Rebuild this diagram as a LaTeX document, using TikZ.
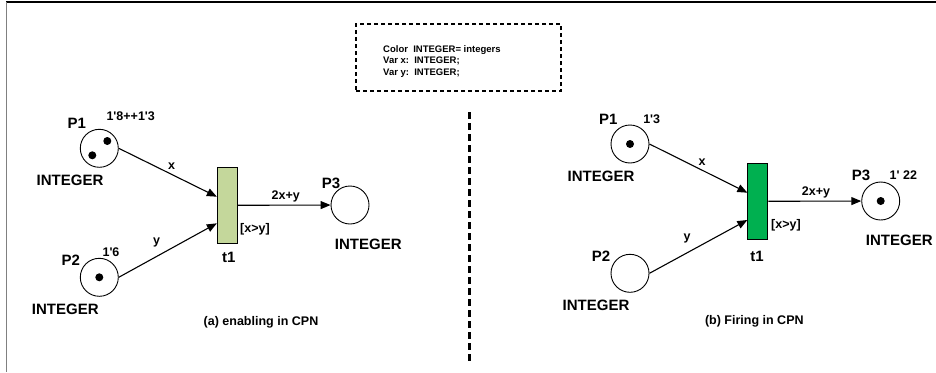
\documentclass[tikz,border=0pt]{standalone}
\usepackage{fontspec}
\setmainfont{Liberation Sans}
\usepackage{tikz}
\usetikzlibrary{arrows.meta,positioning}
\usepackage{xcolor}
\definecolor{lightgreen}{RGB}{196,215,155}
\definecolor{firegreen}{RGB}{0,176,80}
\newcommand{\tick}{\textquotesingle}

\tikzset{
  place/.style={circle,draw,line width=0.9pt,minimum size=38pt,inner sep=0pt},
  trans/.style={rectangle,draw,line width=0.9pt,minimum width=20pt,minimum height=76pt,inner sep=0pt},
  arc/.style={line width=1.1pt,-{Triangle[length=10pt,width=8pt]}},
  biglbl/.style={font=\fontsize{15}{17}\selectfont\bfseries,inner sep=0pt},
  smalllbl/.style={font=\fontsize{12.5}{14}\selectfont\bfseries,inner sep=0pt},
  decllbl/.style={font=\fontsize{9.5}{11.5}\selectfont\bfseries,inner sep=0pt,align=left}
}

\begin{document}
\begin{tikzpicture}[x=1pt, y=-1pt]
\useasboundingbox (0,0) rectangle (936,372);

% ---- frame -----------------------------------------------------------------
\draw[line width=1.5pt] (6,2) -- (936,2);
\draw[gray, line width=1pt] (6,2) -- (6,372);

% ---- colour set declarations -----------------------------------------------
\node[draw,line width=2.2pt,dash pattern=on 4pt off 3pt,minimum width=205pt,
  minimum height=67pt] (decl) at (458.5,57.5) {};
\node[decllbl,anchor=west] (decltext) at (383,61.5)
  {Color\ \ INTEGER= integers\\Var x:\ \ INTEGER;\\Var y:\ \ INTEGER;};

% ---- divider ---------------------------------------------------------------
\draw[line width=3pt,dash pattern=on 7pt off 4pt] (469,112) -- (469,362);

% ---- (a) enabling ----------------------------------------------------------
\node[place] (p1a) at (99.3,148.3) {};
\node[place] (p2a) at (99.3,277.3) {};
\node[place] (p3a) at (350,205) {};
\node[trans,fill=lightgreen] (t1a) at (227.3,205.3) {};
\fill (107.3,141) circle (4pt) (92.3,155.3) circle (4pt);
\fill (p2a.center) circle (4pt);

\node[biglbl] (p1alab) at (76.7,123.3) {P1};
\node[smalllbl] (m1a) at (130.7,116.7) {1\tick8++1\tick3};
\node[biglbl] (ty1a) at (70,180.7) {INTEGER};
\node[biglbl] (p2alab) at (70.7,260) {P2};
\node[smalllbl] (m2a) at (111,252.3) {1\tick6};
\node[biglbl] (ty2a) at (65.3,309.3) {INTEGER};
\node[biglbl] (p3alab) at (331,183.3) {P3};
\node[biglbl] (ty3a) at (368.3,244) {INTEGER};
\node[biglbl] (t1alab) at (228.7,257.3) {t1};
\node[smalllbl] (g1a) at (255,229.3) {[x>y]};

\draw[arc] (p1a.east) -- ([yshift=8.6pt]t1a.west);
\draw[arc] (p2a.east) -- ([yshift=-18pt]t1a.west);
\draw[arc] (t1a) -- (p3a);
\node[smalllbl] (xa) at (171.7,165.7) {x};
\node[smalllbl] (ya) at (156.7,242.3) {y};
\node[smalllbl] (ea) at (285.7,196.7) {2x+y};

\node[smalllbl] (capa) at (261,322.3) {(a) enabling in CPN};

% ---- (b) firing ------------------------------------------------------------
\node[place] (p1b) at (630,144) {};
\node[place] (p2b) at (630,273.3) {};
\node[place] (p3b) at (880.7,201) {};
\node[trans,fill=firegreen] (t1b) at (757.8,201.3) {};
\fill (p1b.center) circle (4pt) (p3b.center) circle (4pt);

\node[biglbl] (p1blab) at (608.3,119) {P1};
\node[smalllbl] (m1b) at (651.7,119) {1\tick3};
\node[biglbl] (ty1b) at (601,176) {INTEGER};
\node[biglbl] (p2blab) at (601,256) {P2};
\node[biglbl] (ty2b) at (596,305) {INTEGER};
\node[biglbl] (p3blab) at (861,175) {P3};
\node[smalllbl] (m3b) at (903.3,175) {1\tick\ 22};
\node[biglbl] (ty3b) at (899.3,240) {INTEGER};
\node[biglbl] (t1blab) at (757,256) {t1};
\node[smalllbl] (g1b) at (786,225.3) {[x>y]};

\draw[arc] (p1b.east) -- ([yshift=8.6pt]t1b.west);
\draw[arc] (p2b.east) -- ([yshift=-18.7pt]t1b.west);
\draw[arc] (t1b) -- (p3b);
\node[smalllbl] (xb) at (702,162.3) {x};
\node[smalllbl] (yb) at (687,238.3) {y};
\node[smalllbl] (eb) at (816,192.3) {2x+y};

\node[smalllbl] (capb) at (754.3,321.7) {(b) Firing in CPN};

\end{tikzpicture}
\end{document}
